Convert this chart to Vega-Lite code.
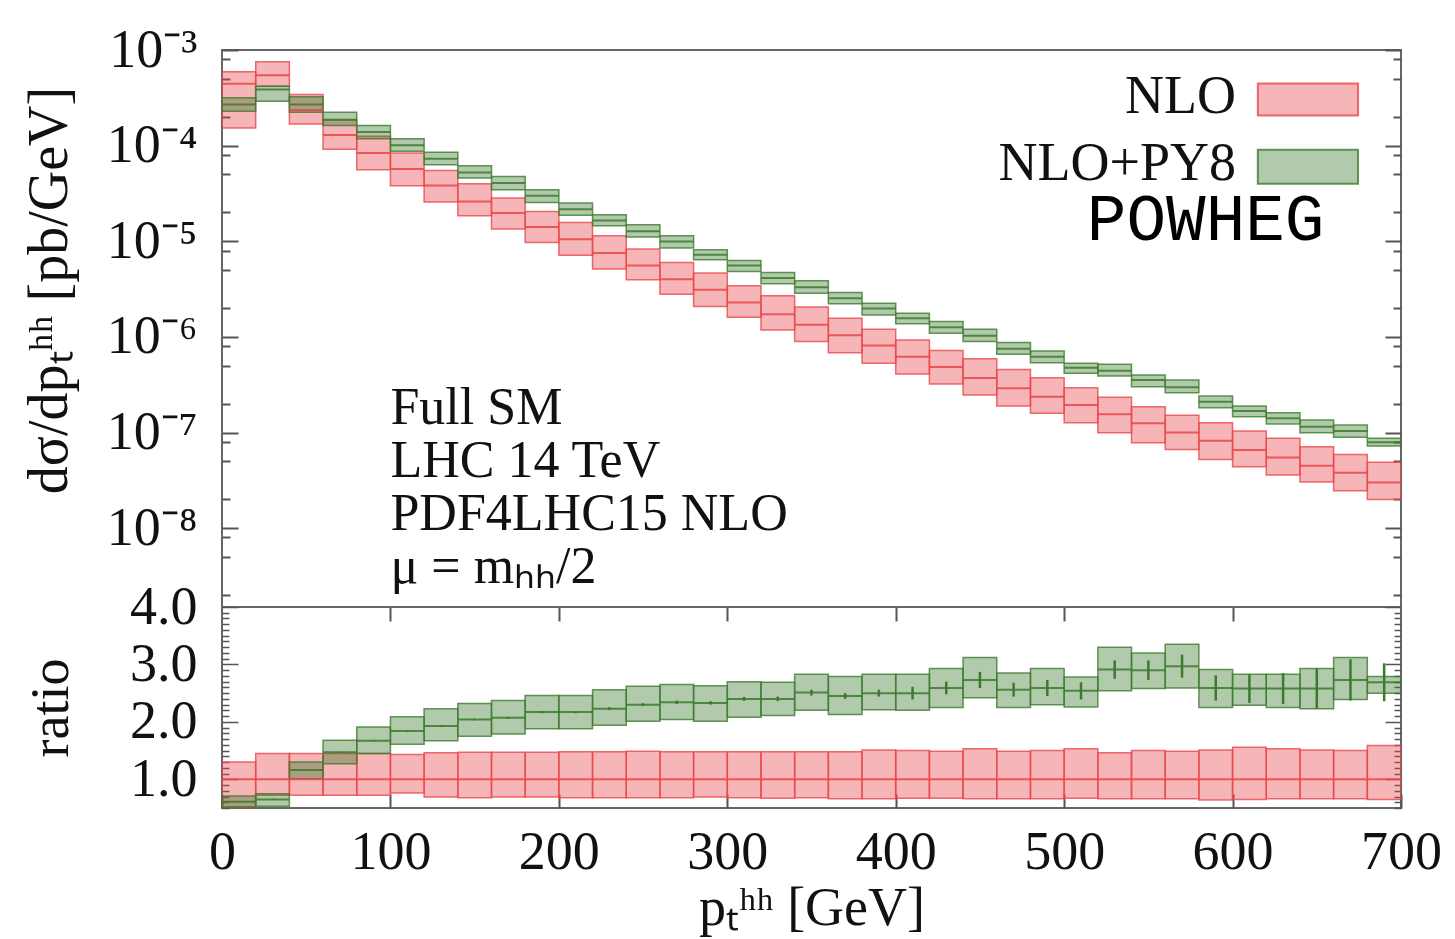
{
  "$schema": "https://vega.github.io/schema/vega-lite/v6.json",
  "background": "white",
  "padding": {"left": 20, "top": 22, "right": 10, "bottom": 5},
  "spacing": 0,
  "bounds": "flush",
  "config": {
    "font": "Liberation Serif",
    "view": {"stroke": "#666", "strokeWidth": 2},
    "axis": {
      "domain": false, "grid": false,
      "labelFont": "Liberation Serif", "labelFontSize": 54, "labelColor": "#111",
      "titleFont": "Liberation Serif", "titleFontSize": 54, "titleFontWeight": "normal", "titleColor": "#111",
      "tickColor": "#555", "tickWidth": 2, "tickSize": -16, "labelPadding": 41,
      "labelFlush": false, "labelOverlap": false, "labelBound": false
    }
  },
  "datasets": {
    "bins": [
      {"x0":0,"x1":20,"s":"NLO","c":4.43e-4,"lo":1.53e-4,"hi":5.91e-4},
      {"x0":20,"x1":40,"s":"NLO","c":5.45e-4,"lo":4.18e-4,"hi":7.52e-4},
      {"x0":40,"x1":60,"s":"NLO","c":2.36e-4,"lo":1.68e-4,"hi":3.42e-4},
      {"x0":60,"x1":80,"s":"NLO","c":1.29e-4,"lo":9.19e-5,"hi":1.87e-4},
      {"x0":80,"x1":100,"s":"NLO","c":8.39e-5,"lo":5.61e-5,"hi":1.25e-4},
      {"x0":100,"x1":120,"s":"NLO","c":5.70e-5,"lo":3.81e-5,"hi":8.39e-5},
      {"x0":120,"x1":140,"s":"NLO","c":3.84e-5,"lo":2.57e-5,"hi":5.51e-5},
      {"x0":140,"x1":160,"s":"NLO","c":2.61e-5,"lo":1.85e-5,"hi":4.00e-5},
      {"x0":160,"x1":180,"s":"NLO","c":1.97e-5,"lo":1.34e-5,"hi":2.83e-5},
      {"x0":180,"x1":200,"s":"NLO","c":1.41e-5,"lo":9.71e-6,"hi":2.05e-5},
      {"x0":200,"x1":220,"s":"NLO","c":1.05e-5,"lo":7.13e-6,"hi":1.57e-5},
      {"x0":220,"x1":240,"s":"NLO","c":7.52e-6,"lo":5.12e-6,"hi":1.14e-5},
      {"x0":240,"x1":260,"s":"NLO","c":5.58e-6,"lo":3.95e-6,"hi":8.29e-6},
      {"x0":260,"x1":280,"s":"NLO","c":4.02e-6,"lo":2.80e-6,"hi":6.00e-6},
      {"x0":280,"x1":300,"s":"NLO","c":3.11e-6,"lo":2.08e-6,"hi":4.65e-6},
      {"x0":300,"x1":320,"s":"NLO","c":2.29e-6,"lo":1.61e-6,"hi":3.42e-6},
      {"x0":320,"x1":340,"s":"NLO","c":1.73e-6,"lo":1.18e-6,"hi":2.69e-6},
      {"x0":340,"x1":360,"s":"NLO","c":1.34e-6,"lo":8.93e-7,"hi":2.05e-6},
      {"x0":360,"x1":380,"s":"NLO","c":1.04e-6,"lo":6.85e-7,"hi":1.57e-6},
      {"x0":380,"x1":400,"s":"NLO","c":8.11e-7,"lo":5.30e-7,"hi":1.20e-6},
      {"x0":400,"x1":420,"s":"NLO","c":6.22e-7,"lo":4.10e-7,"hi":9.30e-7},
      {"x0":420,"x1":440,"s":"NLO","c":4.85e-7,"lo":3.22e-7,"hi":7.19e-7},
      {"x0":440,"x1":460,"s":"NLO","c":3.72e-7,"lo":2.47e-7,"hi":5.91e-7},
      {"x0":460,"x1":480,"s":"NLO","c":2.90e-7,"lo":1.89e-7,"hi":4.57e-7},
      {"x0":480,"x1":500,"s":"NLO","c":2.37e-7,"lo":1.59e-7,"hi":3.75e-7},
      {"x0":500,"x1":520,"s":"NLO","c":1.94e-7,"lo":1.27e-7,"hi":2.94e-7},
      {"x0":520,"x1":540,"s":"NLO","c":1.55e-7,"lo":9.95e-8,"hi":2.34e-7},
      {"x0":540,"x1":560,"s":"NLO","c":1.25e-7,"lo":7.82e-8,"hi":1.86e-7},
      {"x0":560,"x1":580,"s":"NLO","c":1.00e-7,"lo":6.67e-8,"hi":1.52e-7},
      {"x0":580,"x1":600,"s":"NLO","c":8.21e-8,"lo":5.24e-8,"hi":1.27e-7},
      {"x0":600,"x1":620,"s":"NLO","c":6.56e-8,"lo":4.38e-8,"hi":1.04e-7},
      {"x0":620,"x1":640,"s":"NLO","c":5.50e-8,"lo":3.59e-8,"hi":8.70e-8},
      {"x0":640,"x1":660,"s":"NLO","c":4.49e-8,"lo":3.05e-8,"hi":7.10e-8},
      {"x0":660,"x1":680,"s":"NLO","c":3.79e-8,"lo":2.46e-8,"hi":5.91e-8},
      {"x0":680,"x1":700,"s":"NLO","c":3.01e-8,"lo":2.00e-8,"hi":4.88e-8},
      {"x0":0,"x1":20,"s":"NLO+PY8","c":2.69e-4,"lo":2.29e-4,"hi":3.16e-4},
      {"x0":20,"x1":40,"s":"NLO+PY8","c":3.86e-4,"lo":2.91e-4,"hi":4.18e-4},
      {"x0":40,"x1":60,"s":"NLO+PY8","c":2.69e-4,"lo":2.23e-4,"hi":3.24e-4},
      {"x0":60,"x1":80,"s":"NLO+PY8","c":1.87e-4,"lo":1.62e-4,"hi":2.23e-4},
      {"x0":80,"x1":100,"s":"NLO+PY8","c":1.39e-4,"lo":1.18e-4,"hi":1.62e-4},
      {"x0":100,"x1":120,"s":"NLO+PY8","c":1.01e-4,"lo":8.72e-5,"hi":1.18e-4},
      {"x0":120,"x1":140,"s":"NLO+PY8","c":7.31e-5,"lo":6.32e-5,"hi":8.51e-5},
      {"x0":140,"x1":160,"s":"NLO+PY8","c":5.25e-5,"lo":4.59e-5,"hi":6.17e-5},
      {"x0":160,"x1":180,"s":"NLO+PY8","c":4.07e-5,"lo":3.46e-5,"hi":4.77e-5},
      {"x0":180,"x1":200,"s":"NLO+PY8","c":3.00e-5,"lo":2.55e-5,"hi":3.46e-5},
      {"x0":200,"x1":220,"s":"NLO+PY8","c":2.16e-5,"lo":1.87e-5,"hi":2.51e-5},
      {"x0":220,"x1":240,"s":"NLO+PY8","c":1.65e-5,"lo":1.45e-5,"hi":1.89e-5},
      {"x0":240,"x1":260,"s":"NLO+PY8","c":1.27e-5,"lo":1.11e-5,"hi":1.49e-5},
      {"x0":260,"x1":280,"s":"NLO+PY8","c":9.95e-6,"lo":8.49e-6,"hi":1.14e-5},
      {"x0":280,"x1":300,"s":"NLO+PY8","c":7.22e-6,"lo":6.40e-6,"hi":8.15e-6},
      {"x0":300,"x1":320,"s":"NLO+PY8","c":5.58e-6,"lo":4.83e-6,"hi":6.30e-6},
      {"x0":320,"x1":340,"s":"NLO+PY8","c":4.12e-6,"lo":3.59e-6,"hi":4.71e-6},
      {"x0":340,"x1":360,"s":"NLO+PY8","c":3.31e-6,"lo":2.87e-6,"hi":3.86e-6},
      {"x0":360,"x1":380,"s":"NLO+PY8","c":2.54e-6,"lo":2.22e-6,"hi":2.91e-6},
      {"x0":380,"x1":400,"s":"NLO+PY8","c":1.98e-6,"lo":1.70e-6,"hi":2.25e-6},
      {"x0":400,"x1":420,"s":"NLO+PY8","c":1.57e-6,"lo":1.37e-6,"hi":1.77e-6},
      {"x0":420,"x1":440,"s":"NLO+PY8","c":1.26e-6,"lo":1.09e-6,"hi":1.45e-6},
      {"x0":440,"x1":460,"s":"NLO+PY8","c":1.03e-6,"lo":8.93e-7,"hi":1.20e-6},
      {"x0":460,"x1":480,"s":"NLO+PY8","c":7.54e-7,"lo":6.59e-7,"hi":8.72e-7},
      {"x0":480,"x1":500,"s":"NLO+PY8","c":6.22e-7,"lo":5.38e-7,"hi":7.14e-7},
      {"x0":500,"x1":520,"s":"NLO+PY8","c":4.77e-7,"lo":4.17e-7,"hi":5.30e-7},
      {"x0":520,"x1":540,"s":"NLO+PY8","c":4.44e-7,"lo":3.90e-7,"hi":5.18e-7},
      {"x0":540,"x1":560,"s":"NLO+PY8","c":3.55e-7,"lo":3.02e-7,"hi":4.00e-7},
      {"x0":560,"x1":580,"s":"NLO+PY8","c":2.97e-7,"lo":2.61e-7,"hi":3.55e-7},
      {"x0":580,"x1":600,"s":"NLO+PY8","c":2.10e-7,"lo":1.82e-7,"hi":2.41e-7},
      {"x0":600,"x1":620,"s":"NLO+PY8","c":1.68e-7,"lo":1.46e-7,"hi":1.89e-7},
      {"x0":620,"x1":640,"s":"NLO+PY8","c":1.41e-7,"lo":1.23e-7,"hi":1.61e-7},
      {"x0":640,"x1":660,"s":"NLO+PY8","c":1.15e-7,"lo":9.95e-8,"hi":1.35e-7},
      {"x0":660,"x1":680,"s":"NLO+PY8","c":1.04e-7,"lo":8.91e-8,"hi":1.20e-7},
      {"x0":680,"x1":700,"s":"NLO+PY8","c":7.90e-8,"lo":7.22e-8,"hi":8.70e-8}
    ],
    "ratio": [
      {"x0":0,"x1":20,"xc":10,"s":"NLO","r":1,"lo":0.35,"hi":1.30},
      {"x0":20,"x1":40,"xc":30,"s":"NLO","r":1,"lo":0.72,"hi":1.45},
      {"x0":40,"x1":60,"xc":50,"s":"NLO","r":1,"lo":0.72,"hi":1.45},
      {"x0":60,"x1":80,"xc":70,"s":"NLO","r":1,"lo":0.72,"hi":1.45},
      {"x0":80,"x1":100,"xc":90,"s":"NLO","r":1,"lo":0.72,"hi":1.45},
      {"x0":100,"x1":120,"xc":110,"s":"NLO","r":1,"lo":0.76,"hi":1.43},
      {"x0":120,"x1":140,"xc":130,"s":"NLO","r":1,"lo":0.69,"hi":1.46},
      {"x0":140,"x1":160,"xc":150,"s":"NLO","r":1,"lo":0.68,"hi":1.47},
      {"x0":160,"x1":180,"xc":170,"s":"NLO","r":1,"lo":0.69,"hi":1.47},
      {"x0":180,"x1":200,"xc":190,"s":"NLO","r":1,"lo":0.69,"hi":1.47},
      {"x0":200,"x1":220,"xc":210,"s":"NLO","r":1,"lo":0.68,"hi":1.48},
      {"x0":220,"x1":240,"xc":230,"s":"NLO","r":1,"lo":0.68,"hi":1.48},
      {"x0":240,"x1":260,"xc":250,"s":"NLO","r":1,"lo":0.68,"hi":1.49},
      {"x0":260,"x1":280,"xc":270,"s":"NLO","r":1,"lo":0.68,"hi":1.48},
      {"x0":280,"x1":300,"xc":290,"s":"NLO","r":1,"lo":0.69,"hi":1.48},
      {"x0":300,"x1":320,"xc":310,"s":"NLO","r":1,"lo":0.68,"hi":1.48},
      {"x0":320,"x1":340,"xc":330,"s":"NLO","r":1,"lo":0.67,"hi":1.48},
      {"x0":340,"x1":360,"xc":350,"s":"NLO","r":1,"lo":0.68,"hi":1.48},
      {"x0":360,"x1":380,"xc":370,"s":"NLO","r":1,"lo":0.66,"hi":1.48},
      {"x0":380,"x1":400,"xc":390,"s":"NLO","r":1,"lo":0.66,"hi":1.51},
      {"x0":400,"x1":420,"xc":410,"s":"NLO","r":1,"lo":0.67,"hi":1.50},
      {"x0":420,"x1":440,"xc":430,"s":"NLO","r":1,"lo":0.67,"hi":1.49},
      {"x0":440,"x1":460,"xc":450,"s":"NLO","r":1,"lo":0.66,"hi":1.53},
      {"x0":460,"x1":480,"xc":470,"s":"NLO","r":1,"lo":0.66,"hi":1.49},
      {"x0":480,"x1":500,"xc":490,"s":"NLO","r":1,"lo":0.66,"hi":1.50},
      {"x0":500,"x1":520,"xc":510,"s":"NLO","r":1,"lo":0.67,"hi":1.53},
      {"x0":520,"x1":540,"xc":530,"s":"NLO","r":1,"lo":0.66,"hi":1.46},
      {"x0":540,"x1":560,"xc":550,"s":"NLO","r":1,"lo":0.66,"hi":1.50},
      {"x0":560,"x1":580,"xc":570,"s":"NLO","r":1,"lo":0.66,"hi":1.49},
      {"x0":580,"x1":600,"xc":590,"s":"NLO","r":1,"lo":0.64,"hi":1.51},
      {"x0":600,"x1":620,"xc":610,"s":"NLO","r":1,"lo":0.65,"hi":1.56},
      {"x0":620,"x1":640,"xc":630,"s":"NLO","r":1,"lo":0.66,"hi":1.53},
      {"x0":640,"x1":660,"xc":650,"s":"NLO","r":1,"lo":0.66,"hi":1.51},
      {"x0":660,"x1":680,"xc":670,"s":"NLO","r":1,"lo":0.66,"hi":1.50},
      {"x0":680,"x1":700,"xc":690,"s":"NLO","r":1,"lo":0.65,"hi":1.59},
      {"x0":0,"x1":20,"xc":10,"s":"NLO+PY8","r":0.61,"lo":0.52,"hi":0.71,"elo":0.60,"ehi":0.62},
      {"x0":20,"x1":40,"xc":30,"s":"NLO+PY8","r":0.65,"lo":0.53,"hi":0.75,"elo":0.64,"ehi":0.66},
      {"x0":40,"x1":60,"xc":50,"s":"NLO+PY8","r":1.16,"lo":1.01,"hi":1.30,"elo":1.15,"ehi":1.17},
      {"x0":60,"x1":80,"xc":70,"s":"NLO+PY8","r":1.47,"lo":1.27,"hi":1.68,"elo":1.46,"ehi":1.48},
      {"x0":80,"x1":100,"xc":90,"s":"NLO+PY8","r":1.67,"lo":1.45,"hi":1.91,"elo":1.66,"ehi":1.68},
      {"x0":100,"x1":120,"xc":110,"s":"NLO+PY8","r":1.84,"lo":1.61,"hi":2.09,"elo":1.825,"ehi":1.855},
      {"x0":120,"x1":140,"xc":130,"s":"NLO+PY8","r":1.93,"lo":1.67,"hi":2.23,"elo":1.915,"ehi":1.945},
      {"x0":140,"x1":160,"xc":150,"s":"NLO+PY8","r":2.04,"lo":1.75,"hi":2.32,"elo":2.025,"ehi":2.055},
      {"x0":160,"x1":180,"xc":170,"s":"NLO+PY8","r":2.07,"lo":1.79,"hi":2.37,"elo":2.05,"ehi":2.09},
      {"x0":180,"x1":200,"xc":190,"s":"NLO+PY8","r":2.17,"lo":1.88,"hi":2.46,"elo":2.15,"ehi":2.19},
      {"x0":200,"x1":220,"xc":210,"s":"NLO+PY8","r":2.17,"lo":1.88,"hi":2.46,"elo":2.15,"ehi":2.19},
      {"x0":220,"x1":240,"xc":230,"s":"NLO+PY8","r":2.23,"lo":1.94,"hi":2.56,"elo":2.205,"ehi":2.255},
      {"x0":240,"x1":260,"xc":250,"s":"NLO+PY8","r":2.30,"lo":2.01,"hi":2.62,"elo":2.275,"ehi":2.325},
      {"x0":260,"x1":280,"xc":270,"s":"NLO+PY8","r":2.34,"lo":2.04,"hi":2.65,"elo":2.31,"ehi":2.37},
      {"x0":280,"x1":300,"xc":290,"s":"NLO+PY8","r":2.33,"lo":2.01,"hi":2.63,"elo":2.30,"ehi":2.36},
      {"x0":300,"x1":320,"xc":310,"s":"NLO+PY8","r":2.40,"lo":2.08,"hi":2.70,"elo":2.365,"ehi":2.435},
      {"x0":320,"x1":340,"xc":330,"s":"NLO+PY8","r":2.40,"lo":2.11,"hi":2.69,"elo":2.36,"ehi":2.44},
      {"x0":340,"x1":360,"xc":350,"s":"NLO+PY8","r":2.51,"lo":2.20,"hi":2.83,"elo":2.46,"ehi":2.56},
      {"x0":360,"x1":380,"xc":370,"s":"NLO+PY8","r":2.45,"lo":2.13,"hi":2.79,"elo":2.40,"ehi":2.50},
      {"x0":380,"x1":400,"xc":390,"s":"NLO+PY8","r":2.50,"lo":2.21,"hi":2.83,"elo":2.44,"ehi":2.56},
      {"x0":400,"x1":420,"xc":410,"s":"NLO+PY8","r":2.50,"lo":2.20,"hi":2.83,"elo":2.39,"ehi":2.61},
      {"x0":420,"x1":440,"xc":430,"s":"NLO+PY8","r":2.59,"lo":2.25,"hi":2.93,"elo":2.48,"ehi":2.70},
      {"x0":440,"x1":460,"xc":450,"s":"NLO+PY8","r":2.73,"lo":2.42,"hi":3.12,"elo":2.59,"ehi":2.87},
      {"x0":460,"x1":480,"xc":470,"s":"NLO+PY8","r":2.56,"lo":2.25,"hi":2.85,"elo":2.44,"ehi":2.68},
      {"x0":480,"x1":500,"xc":490,"s":"NLO+PY8","r":2.59,"lo":2.30,"hi":2.93,"elo":2.45,"ehi":2.73},
      {"x0":500,"x1":520,"xc":510,"s":"NLO+PY8","r":2.54,"lo":2.26,"hi":2.78,"elo":2.39,"ehi":2.69},
      {"x0":520,"x1":540,"xc":530,"s":"NLO+PY8","r":2.91,"lo":2.54,"hi":3.30,"elo":2.75,"ehi":3.07},
      {"x0":540,"x1":560,"xc":550,"s":"NLO+PY8","r":2.90,"lo":2.58,"hi":3.20,"elo":2.73,"ehi":3.07},
      {"x0":560,"x1":580,"xc":570,"s":"NLO+PY8","r":2.97,"lo":2.59,"hi":3.35,"elo":2.77,"ehi":3.17},
      {"x0":580,"x1":600,"xc":590,"s":"NLO+PY8","r":2.59,"lo":2.25,"hi":2.91,"elo":2.37,"ehi":2.81},
      {"x0":600,"x1":620,"xc":610,"s":"NLO+PY8","r":2.58,"lo":2.29,"hi":2.83,"elo":2.33,"ehi":2.83},
      {"x0":620,"x1":640,"xc":630,"s":"NLO+PY8","r":2.58,"lo":2.25,"hi":2.83,"elo":2.31,"ehi":2.85},
      {"x0":640,"x1":660,"xc":650,"s":"NLO+PY8","r":2.58,"lo":2.23,"hi":2.93,"elo":2.23,"ehi":2.93},
      {"x0":660,"x1":680,"xc":670,"s":"NLO+PY8","r":2.73,"lo":2.39,"hi":3.12,"elo":2.37,"ehi":3.09},
      {"x0":680,"x1":700,"xc":690,"s":"NLO+PY8","r":2.69,"lo":2.50,"hi":2.79,"elo":2.36,"ehi":3.02}
    ]
  },
  "vconcat": [
    {
      "width": 1179,
      "height": 557,
      "resolve": {"axis": {"y": "independent"}},
      "layer": [
        {
          "data": {"name": "bins"},
          "mark": {"type": "rect", "fillOpacity": 0.4, "strokeOpacity": 0.8, "strokeWidth": 1.5, "clip": true},
          "encoding": {
            "x": {"field": "x0", "type": "quantitative", "scale": {"domain": [0, 700], "nice": false, "zero": false}, "axis": null},
            "x2": {"field": "x1"},
            "y": {"field": "lo", "type": "quantitative",
                  "scale": {"type": "log", "domain": [1.5e-9, 1e-3], "nice": false},
                  "axis": {"orient": "left",
                           "values": [2e-9, 5e-9, 8e-9, 1e-8, 2e-8, 5e-8, 8e-8, 1e-7, 2e-7, 5e-7, 8e-7, 1e-6, 2e-6, 5e-6, 8e-6, 1e-5, 2e-5, 5e-5, 8e-5, 1e-4, 2e-4, 5e-4, 8e-4, 1e-3],
                           "minExtent": 120, "maxExtent": 120, "titlePadding": 24, "titleFontSize": 56, "titleY": 240,
                           "tickSize": {"condition": {"test": "abs(log(datum.value)/LN10 - round(log(datum.value)/LN10)) < 0.01", "value": -16}, "value": -8},
                           "labelExpr": "abs(log(datum.value)/LN10 - round(log(datum.value)/LN10)) < 0.01 ? '10⁻' + ['⁰','¹','²','³','⁴','⁵','⁶','⁷','⁸','⁹'][round(-log(datum.value)/LN10)] : ''",
                           "title": "dσ/dpₜʰʰ [pb/GeV]"}},
            "y2": {"field": "hi"},
            "fill": {"field": "s", "type": "nominal", "scale": {"domain": ["NLO", "NLO+PY8"], "range": ["#e8474b", "#3d7a2e"]}, "legend": null},
            "stroke": {"field": "s", "type": "nominal", "scale": {"domain": ["NLO", "NLO+PY8"], "range": ["#e8474b", "#3d7a2e"]}, "legend": null}
          }
        },
        {
          "data": {"name": "bins"},
          "mark": {"type": "rule", "strokeWidth": 2, "opacity": 0.85, "clip": true},
          "encoding": {
            "x": {"field": "x0", "type": "quantitative", "axis": null},
            "x2": {"field": "x1"},
            "y": {"field": "c", "type": "quantitative",
                  "scale": {"type": "log", "domain": [1.5e-9, 1e-3], "nice": false},
                  "axis": {"orient": "right", "labels": false, "title": null,
                           "values": [2e-9, 5e-9, 8e-9, 1e-8, 2e-8, 5e-8, 8e-8, 1e-7, 2e-7, 5e-7, 8e-7, 1e-6, 2e-6, 5e-6, 8e-6, 1e-5, 2e-5, 5e-5, 8e-5, 1e-4, 2e-4, 5e-4, 8e-4, 1e-3],
                           "tickSize": {"condition": {"test": "abs(log(datum.value)/LN10 - round(log(datum.value)/LN10)) < 0.01", "value": -16}, "value": -8}}},
            "stroke": {"field": "s", "type": "nominal", "legend": null}
          }
        },
        {
          "data": {"values": [{}]},
          "mark": {"type": "text", "fontSize": 52, "font": "Liberation Serif", "align": "left", "baseline": "alphabetic", "lineHeight": 53, "color": "#111"},
          "encoding": {
            "x": {"datum": 100, "type": "quantitative", "axis": null},
            "y": {"datum": 1.23e-7, "type": "quantitative", "axis": null},
            "text": {"value": ["Full SM", "LHC 14 TeV", "PDF4LHC15 NLO", "μ = mₕₕ/2"]}
          }
        },
        {
          "data": {"values": [{}]},
          "mark": {"type": "text", "fontSize": 54, "font": "Liberation Serif", "align": "right", "baseline": "alphabetic", "color": "#111"},
          "encoding": {
            "x": {"datum": 602, "type": "quantitative", "axis": null},
            "y": {"datum": 2.22e-4, "type": "quantitative", "axis": null},
            "text": {"value": "NLO"}
          }
        },
        {
          "data": {"values": [{}]},
          "mark": {"type": "text", "fontSize": 54, "font": "Liberation Serif", "align": "right", "baseline": "alphabetic", "color": "#111"},
          "encoding": {
            "x": {"datum": 602, "type": "quantitative", "axis": null},
            "y": {"datum": 4.41e-5, "type": "quantitative", "axis": null},
            "text": {"value": "NLO+PY8"}
          }
        },
        {
          "data": {"values": [{}]},
          "mark": {"type": "text", "fontSize": 66, "font": "Liberation Mono", "align": "center", "baseline": "alphabetic", "color": "#000"},
          "encoding": {
            "x": {"datum": 584, "type": "quantitative", "axis": null},
            "y": {"datum": 1.04e-5, "type": "quantitative", "axis": null},
            "text": {"value": "POWHEG"}
          }
        },
        {
          "data": {"values": [{}]},
          "mark": {"type": "rect", "fillOpacity": 0.4, "strokeOpacity": 0.8, "strokeWidth": 2},
          "encoding": {
            "x": {"datum": 615, "type": "quantitative", "axis": null},
            "x2": {"datum": 674.5},
            "y": {"datum": 4.46e-4, "type": "quantitative", "axis": null},
            "y2": {"datum": 2.06e-4},
            "fill": {"datum": "NLO"},
            "stroke": {"datum": "NLO"}
          }
        },
        {
          "data": {"values": [{}]},
          "mark": {"type": "rect", "fillOpacity": 0.4, "strokeOpacity": 0.8, "strokeWidth": 2},
          "encoding": {
            "x": {"datum": 615, "type": "quantitative", "axis": null},
            "x2": {"datum": 674.5},
            "y": {"datum": 9.08e-5, "type": "quantitative", "axis": null},
            "y2": {"datum": 4.0e-5},
            "fill": {"datum": "NLO+PY8"},
            "stroke": {"datum": "NLO+PY8"}
          }
        }
      ]
    },
    {
      "width": 1179,
      "height": 201,
      "data": {"name": "ratio"},
      "resolve": {"axis": {"x": "independent", "y": "independent"}},
      "layer": [
        {
          "mark": {"type": "rect", "fillOpacity": 0.4, "strokeOpacity": 0.8, "strokeWidth": 1.5, "clip": true},
          "encoding": {
            "x": {"field": "x0", "type": "quantitative", "scale": {"domain": [0, 700], "nice": false, "zero": false},
                  "axis": {"orient": "bottom", "values": [0, 100, 200, 300, 400, 500, 600, 700], "title": "pₜʰʰ [GeV]", "tickSize": -14, "labelPadding": 31, "titlePadding": 2}},
            "x2": {"field": "x1"},
            "y": {"field": "lo", "type": "quantitative", "scale": {"domain": [0.5, 4.0], "nice": false, "zero": false},
                  "axis": {"orient": "left",
                           "values": [0.5, 0.6, 0.7, 0.8, 0.9, 1.0, 1.1, 1.2, 1.3, 1.4, 1.5, 1.6, 1.7, 1.8, 1.9, 2.0, 2.1, 2.2, 2.3, 2.4, 2.5, 2.6, 2.7, 2.8, 2.9, 3.0, 3.1, 3.2, 3.3, 3.4, 3.5, 3.6, 3.7, 3.8, 3.9, 4.0],
                           "tickSize": {"condition": {"test": "abs(datum.value - round(datum.value)) < 0.01", "value": -16}, "value": -7},
                           "tickWidth": 1.5,
                           "labelExpr": "abs(datum.value - round(datum.value)) < 0.01 ? format(datum.value, '.1f') : ''",
                           "minExtent": 120, "maxExtent": 120, "titlePadding": 24, "title": "ratio"}},
            "y2": {"field": "hi"},
            "fill": {"field": "s", "type": "nominal", "scale": {"domain": ["NLO", "NLO+PY8"], "range": ["#e8474b", "#3d7a2e"]}, "legend": null},
            "stroke": {"field": "s", "type": "nominal", "scale": {"domain": ["NLO", "NLO+PY8"], "range": ["#e8474b", "#3d7a2e"]}, "legend": null}
          }
        },
        {
          "mark": {"type": "rule", "strokeWidth": 2, "opacity": 0.85, "clip": true},
          "encoding": {
            "x": {"field": "x0", "type": "quantitative", "scale": {"domain": [0, 700], "nice": false, "zero": false},
                  "axis": {"orient": "top", "values": [100, 200, 300, 400, 500, 600], "labels": false, "title": null, "tickSize": -14}},
            "x2": {"field": "x1"},
            "y": {"field": "r", "type": "quantitative", "scale": {"domain": [0.5, 4.0], "nice": false, "zero": false},
                  "axis": {"orient": "right", "labels": false, "title": null,
                           "values": [0.5, 0.6, 0.7, 0.8, 0.9, 1.0, 1.1, 1.2, 1.3, 1.4, 1.5, 1.6, 1.7, 1.8, 1.9, 2.0, 2.1, 2.2, 2.3, 2.4, 2.5, 2.6, 2.7, 2.8, 2.9, 3.0, 3.1, 3.2, 3.3, 3.4, 3.5, 3.6, 3.7, 3.8, 3.9, 4.0],
                           "tickSize": {"condition": {"test": "abs(datum.value - round(datum.value)) < 0.01", "value": -16}, "value": -7},
                           "tickWidth": 1.5}},
            "stroke": {"field": "s", "type": "nominal", "legend": null}
          }
        },
        {
          "transform": [{"filter": "datum.s == 'NLO+PY8'"}],
          "mark": {"type": "rule", "strokeWidth": 2.5, "clip": true},
          "encoding": {
            "x": {"field": "xc", "type": "quantitative", "axis": null},
            "y": {"field": "elo", "type": "quantitative", "axis": null},
            "y2": {"field": "ehi"},
            "stroke": {"field": "s", "type": "nominal", "legend": null}
          }
        }
      ]
    }
  ]
}
